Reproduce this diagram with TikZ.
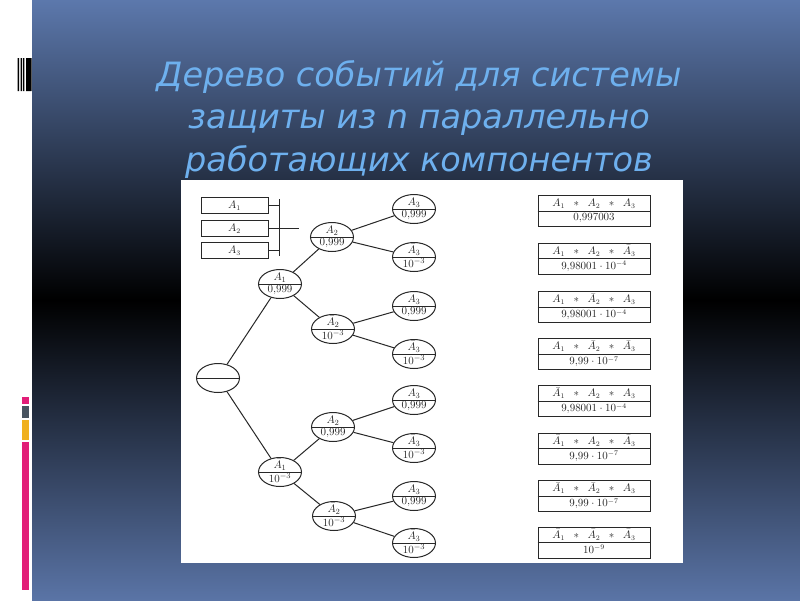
\documentclass[tikz,border=0pt]{standalone}
\usepackage{fontspec}
\newfontfamily\titlefont{DejaVu Sans}
\usetikzlibrary{shapes.geometric,positioning}
\definecolor{slidetop}{RGB}{92,120,172}
\definecolor{slidebot}{RGB}{90,116,166}
\definecolor{titleblue}{RGB}{110,176,238}
\definecolor{barpink}{RGB}{226,30,120}
\definecolor{bargray}{RGB}{72,84,96}
\definecolor{baryellow}{RGB}{240,176,30}
\definecolor{ink}{RGB}{40,40,40}

\tikzset{
  ev/.style={draw=ink,ellipse,line width=1pt,minimum width=43pt,minimum height=29pt,inner sep=0pt},
  evtxt/.style={font=\fontsize{11}{12}\selectfont,inner sep=0.3pt,text=ink},
  restxt/.style={font=\fontsize{10.5}{11}\selectfont,inner sep=0.3pt,text=ink},
  res/.style={draw=ink,line width=1pt,minimum width=112pt,minimum height=31pt,inner sep=0pt},
  lgbox/.style={draw=ink,line width=1pt,minimum width=67pt,minimum height=16pt,inner sep=0pt,
    font=\fontsize{10.5}{11}\selectfont,text=ink},
}

% event node: name, x, y, upper text, lower text
\newcommand{\evnode}[5]{%
  \node[ev] (#1) at (#2,#3) {};
  \draw[ink,line width=1pt] (#1.west) -- (#1.east);
  \node[evtxt,above=1.2pt] (#1t) at (#1.center) {#4};
  \node[evtxt,below=1.2pt] (#1b) at (#1.center) {#5};
}
% result box: name, y, upper text, lower text
\newcommand{\resnode}[4]{%
  \node[res] (#1) at (594,#2) {};
  \draw[ink,line width=1pt] (#1.west) -- (#1.east);
  \node[restxt,above=2pt] (#1t) at (#1.center) {#3};
  \node[restxt,below=2pt] (#1b) at (#1.center) {#4};
}
\newcommand{\st}{\;\;\ast\;\;}

\begin{document}
\begin{tikzpicture}[x=1pt,y=-1pt]
    \useasboundingbox (0,0) rectangle (800,600);
    % slide background
    \fill[white] (0,0) rectangle (32,600);
    \shade[top color=slidetop,bottom color=black] (32,0) rectangle (800,300);
    \shade[top color=black,bottom color=slidebot] (32,300) rectangle (800,600);
    \fill[black] (17.5,58) rectangle (19,91) (20.5,58) rectangle (21.8,91)
      (22.8,58) rectangle (24.3,91) (26,58) rectangle (31.5,91);
    \fill[barpink] (22,397) rectangle (29,404);
    \fill[bargray] (22,406) rectangle (29,418);
    \fill[baryellow] (22,420) rectangle (29,440);
    \fill[barpink] (22,442) rectangle (29,590);

    \node[text=titleblue,align=center,font=\titlefont\itshape\fontsize{33.5}{42.5}\selectfont]
      (title) at (419,119) {Дерево событий для системы\\защиты из n параллельно\\работающих компонентов};

    \fill[white] (181,180) rectangle (683,563);

    % legend
    \node[lgbox] (lg1) at (234.5,205.5) {$A_1$};
    \node[lgbox] (lg2) at (234.5,228.5) {$A_2$};
    \node[lgbox] (lg3) at (234.5,250.5) {$A_3$};
    \coordinate (bus1) at (279,199);
    \coordinate (bus2) at (279,256);
    \coordinate (busm) at (279,228.5);
    \coordinate (busout) at (299,228.5);
    \draw[ink,line width=1pt] (bus1) -- (bus2) (busm) -- (busout)
      (lg1.east) -- (lg1.east -| bus1) (lg2.east) -- (busm) (lg3.east) -- (lg3.east -| bus1);

    % tree
    \node[ev] (root) at (218,378) {};
    \draw[ink,line width=1pt] (root.west) -- (root.east);
    \evnode{a1}{280}{284}{$A_1$}{$0{,}999$}
    \evnode{na1}{280}{472}{$\bar A_1$}{$10^{-3}$}
    \evnode{a2u}{332}{237}{$A_2$}{$0{,}999$}
    \evnode{na2u}{333}{329}{$\bar A_2$}{$10^{-3}$}
    \evnode{a2l}{333}{427}{$A_2$}{$0{,}999$}
    \evnode{na2l}{334}{516}{$\bar A_2$}{$10^{-3}$}
    \evnode{ca}{414}{209}{$A_3$}{$0{,}999$}
    \evnode{cb}{414}{257}{$\bar A_3$}{$10^{-3}$}
    \evnode{cc}{414}{306}{$A_3$}{$0{,}999$}
    \evnode{cd}{414}{354}{$\bar A_3$}{$10^{-3}$}
    \evnode{ce}{414}{400}{$A_3$}{$0{,}999$}
    \evnode{cf}{414}{448}{$\bar A_3$}{$10^{-3}$}
    \evnode{cg}{414}{496}{$A_3$}{$0{,}999$}
    \evnode{ch}{414}{543}{$\bar A_3$}{$10^{-3}$}
    \draw[ink,line width=1pt] (root) -- (a1) (root) -- (na1)
      (a1) -- (a2u) (a1) -- (na2u) (na1) -- (a2l) (na1) -- (na2l)
      (a2u) -- (ca) (a2u) -- (cb) (na2u) -- (cc) (na2u) -- (cd)
      (a2l) -- (ce) (a2l) -- (cf) (na2l) -- (cg) (na2l) -- (ch);

    % outcomes
    \resnode{ra}{211}{$A_1\st A_2\st A_3$}{$0{,}997003$}
    \resnode{rb}{258.5}{$A_1\st A_2\st \bar A_3$}{$9{,}98001\cdot 10^{-4}$}
    \resnode{rc}{307}{$A_1\st \bar A_2\st A_3$}{$9{,}98001\cdot 10^{-4}$}
    \resnode{rd}{354}{$A_1\st \bar A_2\st \bar A_3$}{$9{,}99\cdot 10^{-7}$}
    \resnode{re}{401}{$\bar A_1\st A_2\st A_3$}{$9{,}98001\cdot 10^{-4}$}
    \resnode{rf}{448.5}{$\bar A_1\st A_2\st \bar A_3$}{$9{,}99\cdot 10^{-7}$}
    \resnode{rg}{496}{$\bar A_1\st \bar A_2\st A_3$}{$9{,}99\cdot 10^{-7}$}
    \resnode{rh}{542.5}{$\bar A_1\st \bar A_2\st \bar A_3$}{$10^{-9}$}
\end{tikzpicture}
\end{document}
